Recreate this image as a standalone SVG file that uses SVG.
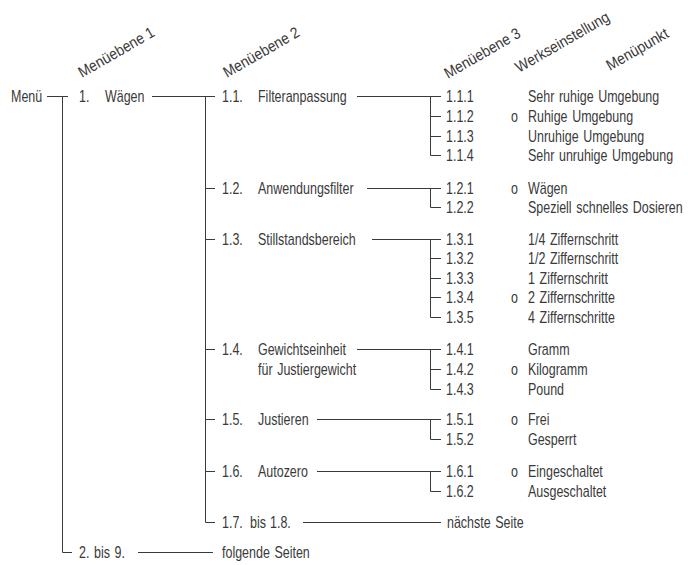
<svg xmlns="http://www.w3.org/2000/svg" width="688" height="565" viewBox="0 0 688 565">
<style>
text{font-family:"Liberation Sans",Arial,sans-serif;font-size:16px;fill:#3a3a3a;word-spacing:1.5px;}
.h{font-size:15.5px;word-spacing:0;}
.c path{stroke:#3a3a3a;stroke-width:1;fill:none;}
</style>
<rect width="688" height="565" fill="#fff"/>
<g id="headers">
<text class="h" transform="translate(82,78) rotate(-30) scale(0.9,1)">Menüebene 1</text>
<text class="h" transform="translate(227,78) rotate(-30) scale(0.9,1)">Menüebene 2</text>
<text class="h" transform="translate(448,79) rotate(-30) scale(0.9,1)">Menüebene 3</text>
<text class="h" transform="translate(519,73) rotate(-30) scale(0.9,1)">Werkseinstellung</text>
<text class="h" transform="translate(610,71) rotate(-30) scale(0.9,1)">Menüpunkt</text>
</g>
<g class="c" id="connectors">
<path d="M47 96.5H68M62.5 96V552.5H72"/>
<path d="M152 96.5H215M205.5 96V522.5H215"/>
<path d="M205 188.5H215M205 239.5H215M205 349.5H215M205 419.5H215M205 471.5H215"/>
<path d="M138 552.5H213"/>
<path d="M303 522.5H441"/>
<path d="M357 96.5H441M430.5 96V155.5H441M430 116.5H441M430 136.5H441"/>
<path d="M367 188.5H441M430.5 188V207.5H441"/>
<path d="M372 239.5H441M430.5 239V317.5H441M430 258.5H441M430 278.5H441M430 297.5H441"/>
<path d="M357 349.5H441M430.5 349V389.5H441M430 369.5H441"/>
<path d="M317 419.5H441M430.5 419V439.5H441"/>
<path d="M317 471.5H441M430.5 471V491.5H441"/>
</g>
<g id="menu"><text transform="translate(11,102) scale(0.78,1)">Menü</text></g>
<g id="n1"><text transform="translate(79,102) scale(0.78,1)">1.</text><text transform="translate(105,102) scale(0.78,1)">Wägen</text></g>
<g id="n2-9"><text transform="translate(79,558) scale(0.78,1)">2. bis 9.</text><text transform="translate(222,558) scale(0.78,1)">folgende Seiten</text></g>
<g id="n1-1"><text transform="translate(222,102) scale(0.78,1)">1.1.</text><text transform="translate(258,102) scale(0.78,1)">Filteranpassung</text></g>
<g id="n1-2"><text transform="translate(222,194) scale(0.78,1)">1.2.</text><text transform="translate(258,194) scale(0.78,1)">Anwendungsfilter</text></g>
<g id="n1-3"><text transform="translate(222,245) scale(0.78,1)">1.3.</text><text transform="translate(258,245) scale(0.78,1)">Stillstandsbereich</text></g>
<g id="n1-4"><text transform="translate(222,355) scale(0.78,1)">1.4.</text><text transform="translate(258,355) scale(0.78,1)">Gewichtseinheit</text><text transform="translate(258,375) scale(0.78,1)">für Justiergewicht</text></g>
<g id="n1-5"><text transform="translate(222,425) scale(0.78,1)">1.5.</text><text transform="translate(258,425) scale(0.78,1)">Justieren</text></g>
<g id="n1-6"><text transform="translate(222,477) scale(0.78,1)">1.6.</text><text transform="translate(258,477) scale(0.78,1)">Autozero</text></g>
<g id="n1-7"><text transform="translate(222,528) scale(0.78,1)">1.7.</text><text transform="translate(250,528) scale(0.78,1)">bis</text><text transform="translate(270,528) scale(0.78,1)">1.8.</text><text transform="translate(447,528) scale(0.78,1)">nächste Seite</text></g>
<g id="n1-1-1"><text transform="translate(446,102) scale(0.78,1)">1.1.1</text><text transform="translate(528,102) scale(0.78,1)">Sehr ruhige Umgebung</text></g>
<g id="n1-1-2"><text transform="translate(446,122) scale(0.78,1)">1.1.2</text><text transform="translate(511,122) scale(0.78,1)">o</text><text transform="translate(528,122) scale(0.78,1)">Ruhige Umgebung</text></g>
<g id="n1-1-3"><text transform="translate(446,142) scale(0.78,1)">1.1.3</text><text transform="translate(528,142) scale(0.78,1)">Unruhige Umgebung</text></g>
<g id="n1-1-4"><text transform="translate(446,161) scale(0.78,1)">1.1.4</text><text transform="translate(528,161) scale(0.78,1)">Sehr unruhige Umgebung</text></g>
<g id="n1-2-1"><text transform="translate(446,194) scale(0.78,1)">1.2.1</text><text transform="translate(511,194) scale(0.78,1)">o</text><text transform="translate(528,194) scale(0.78,1)">Wägen</text></g>
<g id="n1-2-2"><text transform="translate(446,213) scale(0.78,1)">1.2.2</text><text transform="translate(528,213) scale(0.78,1)">Speziell schnelles Dosieren</text></g>
<g id="n1-3-1"><text transform="translate(446,245) scale(0.78,1)">1.3.1</text><text transform="translate(528,245) scale(0.78,1)">1/4 Ziffernschritt</text></g>
<g id="n1-3-2"><text transform="translate(446,264) scale(0.78,1)">1.3.2</text><text transform="translate(528,264) scale(0.78,1)">1/2 Ziffernschritt</text></g>
<g id="n1-3-3"><text transform="translate(446,284) scale(0.78,1)">1.3.3</text><text transform="translate(528,284) scale(0.78,1)">1 Ziffernschritt</text></g>
<g id="n1-3-4"><text transform="translate(446,303) scale(0.78,1)">1.3.4</text><text transform="translate(511,303) scale(0.78,1)">o</text><text transform="translate(528,303) scale(0.78,1)">2 Ziffernschritte</text></g>
<g id="n1-3-5"><text transform="translate(446,323) scale(0.78,1)">1.3.5</text><text transform="translate(528,323) scale(0.78,1)">4 Ziffernschritte</text></g>
<g id="n1-4-1"><text transform="translate(446,355) scale(0.78,1)">1.4.1</text><text transform="translate(528,355) scale(0.78,1)">Gramm</text></g>
<g id="n1-4-2"><text transform="translate(446,375) scale(0.78,1)">1.4.2</text><text transform="translate(511,375) scale(0.78,1)">o</text><text transform="translate(528,375) scale(0.78,1)">Kilogramm</text></g>
<g id="n1-4-3"><text transform="translate(446,395) scale(0.78,1)">1.4.3</text><text transform="translate(528,395) scale(0.78,1)">Pound</text></g>
<g id="n1-5-1"><text transform="translate(446,425) scale(0.78,1)">1.5.1</text><text transform="translate(511,425) scale(0.78,1)">o</text><text transform="translate(528,425) scale(0.78,1)">Frei</text></g>
<g id="n1-5-2"><text transform="translate(446,445) scale(0.78,1)">1.5.2</text><text transform="translate(528,445) scale(0.78,1)">Gesperrt</text></g>
<g id="n1-6-1"><text transform="translate(446,477) scale(0.78,1)">1.6.1</text><text transform="translate(511,477) scale(0.78,1)">o</text><text transform="translate(528,477) scale(0.78,1)">Eingeschaltet</text></g>
<g id="n1-6-2"><text transform="translate(446,497) scale(0.78,1)">1.6.2</text><text transform="translate(528,497) scale(0.78,1)">Ausgeschaltet</text></g>
</svg>
